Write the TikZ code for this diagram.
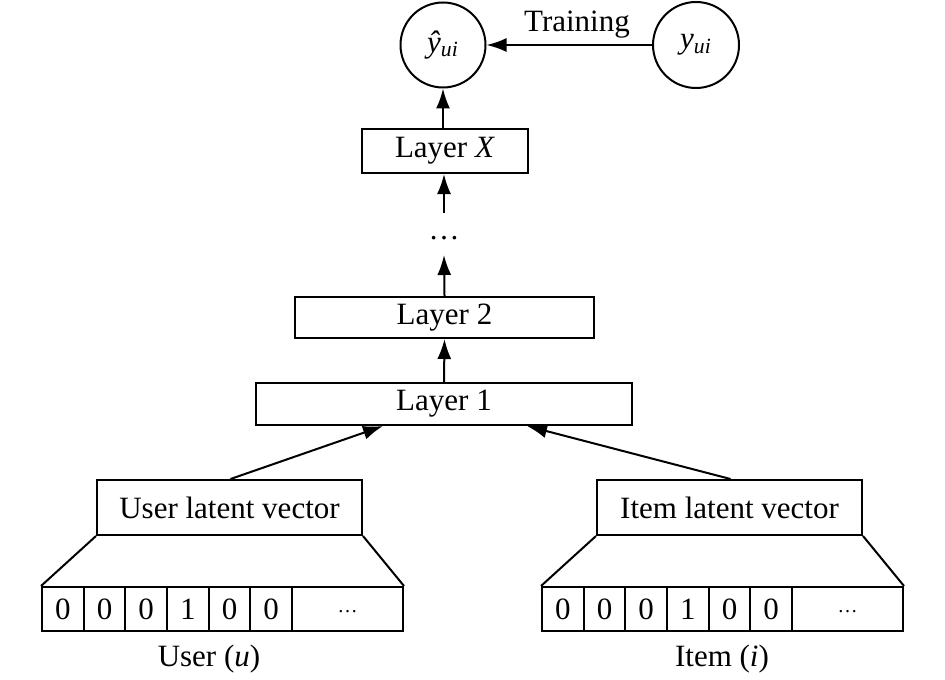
\documentclass[tikz,border=0pt]{standalone}
\usepackage{fontspec}
\setmainfont{Liberation Serif}
\usetikzlibrary{arrows.meta,calc}
\begin{document}
\begin{tikzpicture}[x=0.5pt,y=-0.5pt,
  font=\fontsize{15.5}{18}\selectfont,
  box/.style={draw, line width=1pt, inner sep=0pt, rectangle},
  circ/.style={draw, circle, line width=1pt, inner sep=0pt, minimum size=42.5pt},
  cell/.style={draw, line width=1pt, inner sep=0pt, minimum height=22pt, minimum width=20.83pt},
  arr/.style={line width=1pt, -{Latex[length=10pt,width=7pt]}},
  ln/.style={line width=1pt}]
\useasboundingbox (0,0) rectangle (945,679);

% circles
\node[circ] (yh) at (443,45) {\itshape \^{y}\textsubscript{ui}};
\node[circ, minimum size=43pt] (yt) at (696,45) {\itshape y\textsubscript{ui}};
\node (tr) at (577,25) {Training};

% layers
\node[box, minimum width=83pt, minimum height=22pt] (lx) at (445,151) {Layer \textit{X}};
\node (dots) at (444,238) {\ldots};
\node[box, minimum width=149.5pt, minimum height=20.5pt] (l2) at (444.5,317.5) {Layer 2};
\node[box, minimum width=188pt, minimum height=21pt] (l1) at (444,404) {Layer 1};

% latent vectors
\node[box, minimum width=132.5pt, minimum height=27.5pt] (ub) at (229.5,507.5) {User latent vector};
\node[box, minimum width=132.5pt, minimum height=27.5pt] (ib) at (729.5,507.5) {Item latent vector};

% one-hot cells
\foreach \v [count=\k] in {0,0,0,1,0,0} {
  \node[cell] (u\k) at ({42+41.67*(\k-0.5)},609) {\v};
  \node[cell] (i\k) at ({542+41.67*(\k-0.5)},609) {\v};
}
\node[cell, minimum width=55.5pt] (u7) at (347.5,609) {\raisebox{-3.5pt}{\fontsize{10}{12}\selectfont\ldots}};
\node[cell, minimum width=55.5pt] (i7) at (847.5,609) {\raisebox{-3.5pt}{\fontsize{10}{12}\selectfont\ldots}};

\node (ul) at (209,659) {User (\textit{u})};
\node (il) at (722,659) {Item (\textit{i})};

% trapezoids
\draw[ln] (ub.south west) -- (u1.north west);
\draw[ln] (ub.south east) -- (u7.north east);
\draw[ln] (ib.south west) -- (i1.north west);
\draw[ln] (ib.south east) -- (i7.north east);

% connectors
\draw[arr] ([xshift=0.5pt]ub.north) -- ([xshift=-30.5pt]l1.south);
\draw[arr] ([xshift=0.5pt]ib.north) -- ([xshift=41.5pt]l1.south);
\draw[arr] (l1.north) -- (l2.south);
\draw[arr] (l2.north) -- ([yshift=-8.5pt]dots.center);
\draw[arr] ([yshift=12.5pt]dots.center) -- ([xshift=-0.5pt]lx.south);
\draw[arr] ([xshift=-1pt]lx.north) -- (yh.south);
\draw[arr] (yt.west) -- (yh.east);
\end{tikzpicture}
\end{document}
